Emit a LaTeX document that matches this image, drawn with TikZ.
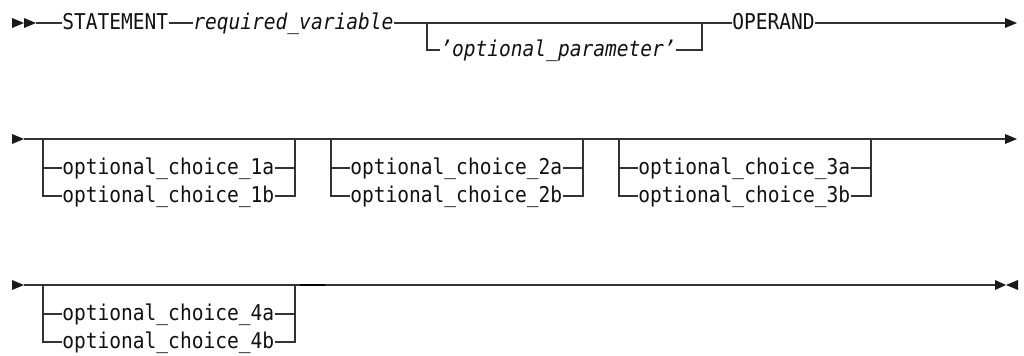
\documentclass[tikz,border=0pt]{standalone}
\usepackage{fontspec}
\setmonofont{DejaVu Sans Mono}[FakeStretch=0.9]
\definecolor{linecol}{HTML}{333333}
\definecolor{txtcol}{HTML}{111111}
\tikzset{
  rail/.style={draw=linecol, line width=0.8pt},
  heavyrail/.style={draw=black, line width=1.6pt},
  kw/.style={font=\ttfamily\fontsize{16.3pt}{18pt}\selectfont, text=txtcol,
    inner sep=0pt, anchor=west, text height=12pt, text depth=2pt},
  var/.style={kw, font=\ttfamily\itshape\fontsize{16.3pt}{18pt}\selectfont},
  tip/.style={fill=black!90, draw=none}
}
\begin{document}
\begin{tikzpicture}[x=0.75pt, y=-0.75pt]
\useasboundingbox (0,0) rectangle (1024,356);

% ---------- row 1 ----------
\coordinate (r1s) at (12,23);
\coordinate (r1a) at (36,23);
\node[kw]  (stmt) at (62,23)  {STATEMENT};
\node[var] (reqv) at (193,23) {required\_variable};
\coordinate (b1l) at (427,23);
\coordinate (b1r) at (702,23);
\node[var] (opar) at (440,50) {’optional\_parameter’};
\node[kw]  (oper) at (732,23) {OPERAND};
\coordinate (r1e) at (1005,23);

\fill[tip] (r1s) -- ++(0,-5) -- ++(12,5) -- ++(-12,5) -- cycle;
\fill[tip] (r1s) ++(12,0) -- ++(0,-5) -- ++(12,5) -- ++(-12,5) -- cycle;
\draw[rail] (r1a) -- (stmt.west);
\draw[rail] (stmt.east) -- (reqv.west);
\draw[rail] (reqv.east) -- (oper.west);
\draw[rail] (b1l) |- (opar.west);
\draw[rail] (opar.east) -| (b1r);
\draw[rail] (oper.east) -- (r1e);
\fill[tip] (r1e) ++(0,-5) -- ++(12,5) -- ++(-12,5) -- cycle;

% ---------- row 2 ----------
\coordinate (r2s) at (12,139);
\coordinate (r2a) at (24,139);
\coordinate (r2e) at (1005,139);
\fill[tip] (r2s) ++(0,-5) -- ++(12,5) -- ++(-12,5) -- cycle;
\draw[rail] (r2a) -- (r2e);
\fill[tip] (r2e) ++(0,-5) -- ++(12,5) -- ++(-12,5) -- cycle;

% ---------- row 3 ----------
\coordinate (r3s) at (12,285);
\coordinate (r3a) at (24,285);
\coordinate (r3e) at (995,285);
\coordinate (h3a) at (300,285);
\coordinate (h3b) at (325,285);
\fill[tip] (r3s) ++(0,-5) -- ++(12,5) -- ++(-12,5) -- cycle;
\draw[rail] (r3a) -- (r3e);
\draw[heavyrail] (h3a) -- (h3b);
\fill[tip] (r3e) ++(0,-5) -- ++(11,5) -- ++(-11,5) -- cycle;
\fill[tip] (r3e) ++(23,-5) -- ++(-12,5) -- ++(12,5) -- cycle;

% ---------- choice groups ----------
\foreach \n/\x/\y in {1/43/139, 2/331/139, 3/619/139, 4/43/285} {
  \coordinate (gl\n) at (\x,\y);
  \coordinate (gr\n) at (\x+252,\y);
  \coordinate (gra\n) at (\x+252,\y+29);
  \coordinate (gla\n) at (\x,\y+29);
  \node[kw] (ca\n) at (\x+19,\y+29) {optional\_choice\_\n a};
  \node[kw] (cb\n) at (\x+19,\y+57) {optional\_choice\_\n b};
  \draw[rail] (gl\n) |- (cb\n.west);
  \draw[rail] (gla\n) -- (ca\n.west);
  \draw[rail] (ca\n.east) -- (gra\n);
  \draw[rail] (cb\n.east) -| (gr\n);
}
\end{tikzpicture}
\end{document}
